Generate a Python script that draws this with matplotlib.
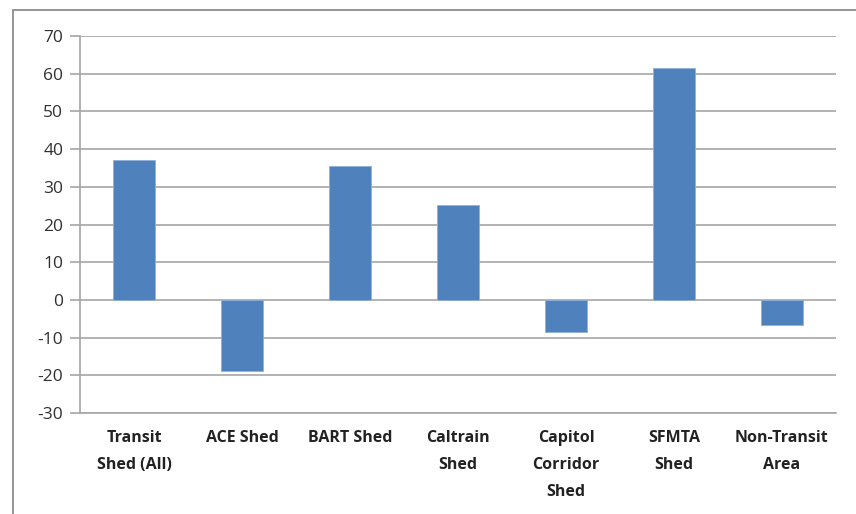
import matplotlib
matplotlib.use("Agg")
from matplotlib import pyplot as plt
from matplotlib.patches import Rectangle

# dados
categorias = ["Transit\nShed (All)", "ACE Shed", "BART Shed", "Caltrain\nShed",
              "Capitol\nCorridor\nShed", "SFMTA\nShed", "Non-Transit\nArea"]
valores = [37.0, -18.8, 35.5, 25.2, -8.5, 61.5, -6.6]
yticks = list(range(-30, 80, 10))

plt.rcParams['font.family'] = ['Open Sans', 'DejaVu Sans']

fig = plt.figure(figsize=(8.56, 5.14), dpi=100)
ax = fig.add_axes([80/856, 1-413/514, (836-80)/856, (413-36)/514])

# borda da area do grafico (parcialmente cortada)
fig.patches.append(Rectangle((13/856, -0.1), 1.2, 1 - 10/514 + 0.1,
                             transform=fig.transFigure, fill=False,
                             edgecolor='#8c8c8c', linewidth=1.3))

x = range(len(categorias))
ax.bar(x, valores, width=0.39, color='#4f81bd', edgecolor='#8fb0da',
       linewidth=0.6, zorder=3)

ax.set_ylim(-30, 70)
ax.set_xlim(-0.5, len(categorias) - 0.5)
ax.set_yticks(yticks)
ax.set_yticklabels([str(v) for v in yticks], fontsize=12.5, color='#303030')
ax.yaxis.grid(True, color='#a6a6a6', linewidth=1.2, zorder=0)
ax.set_axisbelow(True)
ax.tick_params(axis='y', length=7, color='#a6a6a6', width=1.2, pad=5)

ax.set_xticks(list(x))
ax.set_xticklabels(categorias, fontsize=11.5, fontweight='bold',
                   color='#222222', linespacing=1.95)
ax.tick_params(axis='x', length=0, pad=12)

for s in ['top', 'right']:
    ax.spines[s].set_visible(False)
ax.spines['left'].set_color('#a6a6a6')
ax.spines['left'].set_linewidth(1.2)
ax.spines['bottom'].set_color('#a6a6a6')
ax.spines['bottom'].set_linewidth(1.2)

plt.savefig("out.png", dpi=100)
